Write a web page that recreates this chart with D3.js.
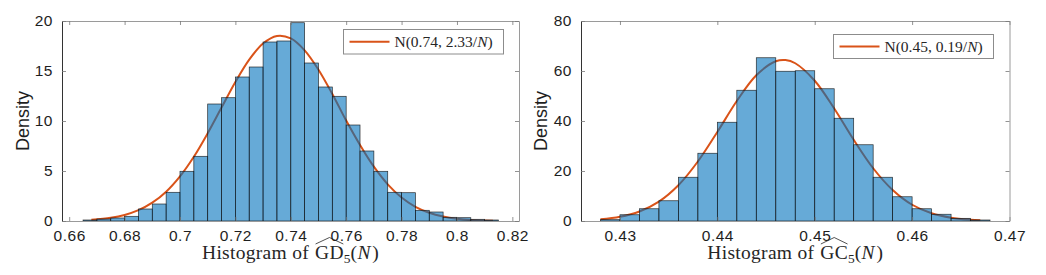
<!DOCTYPE html>
<html>
<head>
<meta charset="utf-8">
<script src="https://cdn.jsdelivr.net/npm/d3@7"></script>
<style>
  body { margin: 0; background: #fff; }
  svg { display: block; }
  text { white-space: pre; }
</style>
</head>
<body>
<svg id="svg" width="1046" height="275"></svg>
<script>
// left: histogram of GD_5(N)
const gdEdges = [0.665, 0.670, 0.675, 0.680, 0.685, 0.690, 0.695, 0.700, 0.705, 0.710,
                 0.715, 0.720, 0.725, 0.730, 0.735, 0.740, 0.745, 0.750, 0.755, 0.760,
                 0.765, 0.770, 0.775, 0.780, 0.785, 0.790, 0.795, 0.800, 0.805, 0.810, 0.815];
const gdDensity = [0.1, 0.2, 0.3, 0.47, 1.2, 1.7, 2.87, 4.97, 6.47, 11.7,
                   12.33, 14.4, 15.4, 17.9, 18.0, 19.83, 15.8, 13.4, 12.47, 9.6,
                   7.0, 4.97, 2.87, 2.83, 1.07, 0.9, 0.37, 0.33, 0.17, 0.1];
const gdCurveX = [0.668, 0.675, 0.680, 0.685, 0.690, 0.695, 0.700, 0.705, 0.710, 0.715,
                  0.720, 0.725, 0.730, 0.735, 0.740, 0.745, 0.750, 0.755, 0.760, 0.765,
                  0.770, 0.775, 0.780, 0.785, 0.790, 0.795, 0.800, 0.805, 0.813];
const gdCurveY = [0.12, 0.32, 0.60, 1.08, 1.83, 2.93, 4.46, 6.42, 8.77, 11.34,
                  13.9, 16.14, 17.75, 18.5, 18.26, 17.07, 15.13, 12.7, 10.04, 7.6,
                  5.43, 3.67, 2.35, 1.42, 0.82, 0.45, 0.23, 0.11, 0.03];
const gdXTicks = [0.66, 0.68, 0.7, 0.72, 0.74, 0.76, 0.78, 0.8, 0.82];
const gdYTicks = [0, 5, 10, 15, 20];

// right: histogram of GC_5(N)
const gcEdges = [0.428, 0.430, 0.432, 0.434, 0.436, 0.438, 0.440, 0.442, 0.444, 0.446, 0.448,
                 0.450, 0.452, 0.454, 0.456, 0.458, 0.460, 0.462, 0.464, 0.466, 0.468];
const gcDensity = [0.53, 2.5, 4.9, 8.1, 17.5, 27.1, 39.5, 52.3, 65.3, 59.9,
                   60.1, 52.9, 41.1, 30.5, 17.5, 9.7, 4.9, 2.7, 1.07, 0.4];
const gcCurveX = [0.428, 0.430, 0.432, 0.434, 0.436, 0.438, 0.440, 0.442, 0.444, 0.446, 0.447,
                  0.448, 0.450, 0.452, 0.454, 0.456, 0.458, 0.460, 0.462, 0.464, 0.466, 0.467];
const gcCurveY = [0.66, 1.66, 3.79, 7.75, 14.3, 23.8, 35.6, 48.0, 58.3, 63.9, 64.4,
                  63.1, 56.1, 45.0, 32.5, 21.1, 12.4, 6.5, 3.1, 1.33, 0.51, 0.3];
const gcXTicks = [0.43, 0.44, 0.45, 0.46, 0.47];
const gcYTicks = [0, 20, 40, 60, 80];

const svg = d3.select('#svg');
const sans = '"Liberation Sans", Arial, Helvetica, sans-serif';
const serif = '"Liberation Serif", "Times New Roman", serif';

function panel(o) {
	const g = svg.append('g');
	const x = d3.scaleLinear().domain(o.xDomain).range([o.left, o.right]);
	const y = d3.scaleLinear().domain(o.yDomain).range([o.bottom, o.top]);

	// fitted normal curve (sits under the translucent bars)
	const pts = o.curveX.map((v, i) => [v, o.curveY[i]]);
	g.append('path')
		.datum(pts)
		.attr('d', d3.line().x(d => x(d[0])).y(d => y(d[1])).curve(d3.curveCatmullRom))
		.attr('fill', 'none')
		.attr('stroke', '#D95319')
		.attr('stroke-width', 2);

	// bars
	g.selectAll('rect.bar')
		.data(o.density)
		.join('rect')
		.attr('class', 'bar')
		.attr('x', (d, i) => x(o.edges[i]))
		.attr('width', (d, i) => x(o.edges[i + 1]) - x(o.edges[i]))
		.attr('y', d => y(d))
		.attr('height', d => y(0) - y(d))
		.attr('fill', '#0072BD')
		.attr('fill-opacity', 0.6)
		.attr('stroke', '#111')
		.attr('stroke-opacity', 0.85)
		.attr('stroke-width', 0.7);

	// axes, ticks inside, box all round
	const fmt = d => String(d);
	const bottom = g.append('g').attr('transform', 'translate(0,' + o.bottom + ')')
		.call(d3.axisBottom(x).tickValues(o.xTicks).tickFormat(fmt).tickSize(-4).tickSizeOuter(0).tickPadding(9));
	const top = g.append('g').attr('transform', 'translate(0,' + o.top + ')')
		.call(d3.axisTop(x).tickValues(o.xTicks).tickFormat('').tickSize(-4).tickSizeOuter(0));
	const left = g.append('g').attr('transform', 'translate(' + o.left + ',0)')
		.call(d3.axisLeft(y).tickValues(o.yTicks).tickFormat(fmt).tickSize(-4).tickSizeOuter(0).tickPadding(9));
	const right = g.append('g').attr('transform', 'translate(' + o.right + ',0)')
		.call(d3.axisRight(y).tickValues(o.yTicks).tickFormat('').tickSize(-4).tickSizeOuter(0));

	[bottom, top, left, right].forEach(a => {
		a.selectAll('.domain').attr('stroke', '#9a9a9a').attr('stroke-width', 1);
		a.selectAll('.tick line').attr('stroke', '#777').attr('stroke-width', 0.8);
		a.selectAll('text').attr('fill', '#1e1e1e')
			.style('font-family', sans).style('font-size', '15.5px').style('letter-spacing', '0.5px');
	});
	left.select('.domain').attr('stroke', '#333');

	// y label
	svg.append('text')
		.attr('transform', 'translate(' + o.yLabelX + ',' + ((o.top + o.bottom) / 2) + ') rotate(-90)')
		.attr('text-anchor', 'middle')
		.attr('dy', '0.35em')
		.style('font-family', sans)
		.style('font-size', '18px')
		.attr('fill', '#1e1e1e')
		.text('Density');

	// x label, LaTeX-ish pieces laid out one after another
	const lab = svg.append('g');
	let cx = 0;
	o.xLabel.forEach(p => {
		const t = lab.append('text')
			.attr('x', cx)
			.attr('y', p.sub ? 4 : 0)
			.style('font-family', serif)
			.style('font-size', p.sub ? '13.5px' : '19.5px')
			.style('font-style', p.it ? 'italic' : 'normal')
			.style('letter-spacing', p.sub ? '0px' : '0.3px')
			.attr('fill', '#262626')
			.text(p.t);
		const w = t.node().getComputedTextLength();
		if (p.hat) {
			lab.append('path')
				.attr('d', 'M' + (cx + 0.5) + ',-15 L' + (cx + w / 2) + ',-21.5 L' + (cx + w - 0.5) + ',-15')
				.attr('fill', 'none')
				.attr('stroke', '#262626')
				.attr('stroke-width', 0.8);
		}
		cx += w + (p.gap || 0);
	});
	lab.attr('transform', 'translate(' + ((o.left + o.right) / 2 - cx / 2) + ',' + o.xLabelY + ')');

	// legend
	const L = o.legend;
	const lg = svg.append('g');
	lg.append('rect')
		.attr('x', L.x).attr('y', L.y).attr('width', L.w).attr('height', L.h)
		.attr('fill', '#fff').attr('stroke', '#8c8c8c').attr('stroke-width', 1);
	lg.append('line')
		.attr('x1', L.x + 6).attr('x2', L.x + 46)
		.attr('y1', L.y + L.h / 2).attr('y2', L.y + L.h / 2)
		.attr('stroke', '#D95319').attr('stroke-width', 2);
	const lt = lg.append('text')
		.attr('x', L.x + 51).attr('y', L.y + L.h / 2 + 5)
		.style('font-family', serif).style('font-size', '15.5px')
		.attr('fill', '#262626');
	lt.append('tspan').text(o.legendText[0]);
	lt.append('tspan').style('font-style', 'italic').text('N');
	lt.append('tspan').text(')');
}

panel({
	left: 62, right: 519, top: 21, bottom: 221,
	xDomain: [0.6574, 0.8224], yDomain: [0, 20],
	edges: gdEdges, density: gdDensity,
	curveX: gdCurveX, curveY: gdCurveY,
	xTicks: gdXTicks, yTicks: gdYTicks,
	yLabelX: 23, xLabelY: 259,
	xLabel: [{t: 'Histogram of', gap: 6}, {t: 'GD', hat: true}, {t: '5', sub: true}, {t: '('}, {t: 'N', it: true, gap: 1.5}, {t: ')'}],
	legend: {x: 343.5, y: 29.5, w: 160, h: 24.5},
	legendText: ['N(0.74, 2.33/']
});

panel({
	left: 581, right: 1009.5, top: 21, bottom: 221,
	xDomain: [0.426, 0.47], yDomain: [0, 80],
	edges: gcEdges, density: gcDensity,
	curveX: gcCurveX, curveY: gcCurveY,
	xTicks: gcXTicks, yTicks: gcYTicks,
	yLabelX: 541, xLabelY: 259,
	xLabel: [{t: 'Histogram of', gap: 6}, {t: 'GC', hat: true}, {t: '5', sub: true}, {t: '('}, {t: 'N', it: true, gap: 1.5}, {t: ')'}],
	legend: {x: 833.5, y: 34.5, w: 160, h: 24},
	legendText: ['N(0.45, 0.19/']
});
</script>
</body>
</html>
